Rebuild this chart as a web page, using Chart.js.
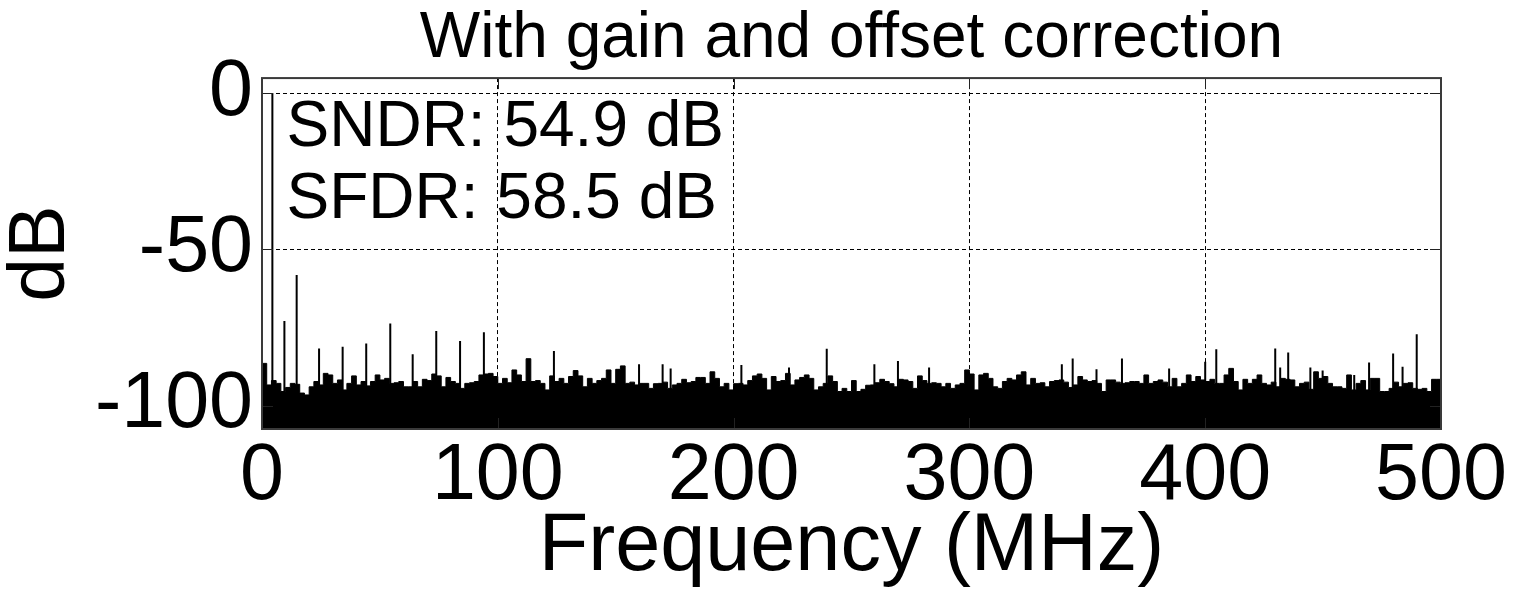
<!DOCTYPE html>
<html>
<head>
<meta charset="utf-8">
<script src="https://cdn.jsdelivr.net/npm/chart.js@4/dist/chart.umd.min.js"></script>
<style>
  html, body { margin: 0; padding: 0; background: #fff; }
  #wrap { width: 1514px; height: 591px; }
</style>
</head>
<body>
<div id="wrap"><canvas id="c" width="1514" height="591"></canvas></div>
<script>
// ---- Data ----
const titleText = 'With gain and offset correction';
const xAxisLabel = 'Frequency (MHz)';
const yAxisLabel = 'dB';
const xTickValues = [0, 100, 200, 300, 400, 500];
const yTickValues = [-100, -50, 0];
const xRange = [0, 500];
const yRange = [-107.5, 4.8];

// noise floor envelope, one value per 2 MHz bin starting at 0 MHz (dB)
const noiseBinStartMHz = 0;
const noiseBinWidthMHz = 2;
const noiseLevels = [
  -87.5, -86.5, -93.4, -92.0, -92.9, -95.5, -94.2, -92.9, -93.2, -96.0,
  -96.6, -94.0, -92.3, -93.4, -89.7, -90.2, -92.9, -91.8, -95.0, -92.9,
  -90.5, -93.4, -92.3, -93.7, -92.3, -90.2, -91.8, -91.3, -92.9, -92.7,
  -92.3, -94.0, -94.0, -92.3, -94.0, -91.6, -92.0, -89.9, -90.5, -94.0,
  -91.0, -92.3, -92.9, -94.5, -92.9, -92.7, -92.3, -90.2, -89.9, -89.7,
  -90.7, -92.9, -91.3, -92.7, -88.6, -90.2, -92.3, -85.0, -92.3, -92.0,
  -92.9, -95.0, -90.5, -92.3, -91.3, -92.9, -90.7, -88.8, -90.5, -94.0,
  -91.3, -92.9, -92.0, -91.3, -88.6, -92.9, -88.4, -87.3, -92.9, -92.5,
  -93.4, -92.9, -92.9, -94.5, -93.0, -92.9, -92.5, -94.5, -93.4, -92.9,
  -91.6, -92.7, -92.3, -91.0, -91.0, -92.9, -89.2, -91.3, -94.0, -92.9,
  -95.0, -93.0, -92.9, -93.4, -92.0, -90.5, -89.9, -91.3, -95.0, -90.7,
  -92.3, -92.0, -89.7, -93.4, -91.8, -91.0, -90.2, -91.3, -95.0, -94.0,
  -92.9, -90.5, -92.3, -95.5, -94.5, -95.5, -92.0, -95.5, -94.8, -93.5,
  -93.4, -92.7, -91.6, -92.3, -93.0, -94.0, -91.6, -91.8, -92.3, -94.5,
  -90.5, -92.0, -92.9, -92.7, -92.9, -94.0, -92.9, -94.5, -93.4, -92.9,
  -88.6, -89.9, -95.0, -90.2, -89.7, -91.3, -94.0, -94.5, -92.3, -91.3,
  -91.8, -90.2, -89.2, -93.4, -91.3, -92.9, -92.7, -94.0, -92.3, -92.0,
  -91.8, -92.5, -94.2, -93.4, -90.7, -91.8, -92.3, -92.0, -92.9, -95.5,
  -91.8, -91.8, -92.5, -92.9, -92.7, -92.3, -92.3, -92.9, -90.2, -92.9,
  -92.3, -91.8, -92.5, -94.0, -91.3, -94.0, -92.9, -90.2, -92.3, -90.7,
  -91.8, -92.3, -91.6, -92.9, -92.9, -90.2, -88.1, -92.3, -95.0, -91.6,
  -92.9, -91.6, -90.2, -92.9, -93.4, -92.5, -94.0, -91.3, -91.6, -91.8,
  -94.0, -92.9, -92.5, -94.8, -89.2, -91.3, -90.7, -92.9, -94.0, -94.0,
  -94.5, -90.2, -95.0, -92.9, -92.0, -95.0, -91.3, -91.3, -95.5, -95.5,
  -94.5, -92.5, -94.0, -92.9, -92.7, -94.5, -94.8, -94.5, -95.5, -91.6
];

// tones and spurs (MHz, dB)
const spurFreqs = [
  4.4, 9.5, 14.7, 24.2, 34.2, 44.2, 54.4, 63.9, 73.9, 84.0,
  94.1, 123.8, 159.9, 169.9, 173.3, 203.3, 223.5, 239.5, 259.7, 269.7,
  282.9, 339.2, 343.8, 353.9, 364.7, 384.7, 400.0, 404.7, 429.7, 431.8,
  435.2, 444.6, 449.8, 463.2, 469.5, 479.7, 483.7, 489.7
];
const spurLevels = [
  0.0, -72.9, -58.2, -81.7, -81.2, -80.1, -73.7, -83.6, -76.1, -79.3,
  -76.5, -82.5, -86.8, -86.8, -88.1, -87.0, -87.8, -81.8, -86.8, -85.7,
  -87.8, -86.8, -84.9, -88.4, -84.9, -88.1, -86.0, -82.0, -81.7, -87.8,
  -83.0, -87.8, -88.8, -90.2, -86.2, -83.3, -87.6, -77.2
];

const annotationLines = ['SNDR: 54.9 dB', 'SFDR: 58.5 dB'];

// ---- Build datasets ----
const noisePoints = noiseLevels.map((v, i) => ({ x: noiseBinStartMHz + i * noiseBinWidthMHz, y: v }));
noisePoints.push({ x: noiseBinStartMHz + noiseLevels.length * noiseBinWidthMHz, y: noiseLevels[noiseLevels.length - 1] });

const spurPoints = [];
spurFreqs.forEach((f, i) => {
  spurPoints.push({ x: f, y: yRange[0] });
  spurPoints.push({ x: f, y: spurLevels[i] });
  spurPoints.push({ x: f, y: null });
});

const FONT = '"Liberation Sans", Arial, Helvetica, sans-serif';

const frameAndTicks = {
  id: 'frameAndTicks',
  afterDatasetsDraw(chart) {
    const { ctx, chartArea: a, scales } = chart;
    ctx.save();
    ctx.strokeStyle = '#222';
    ctx.lineWidth = 1;
    const L = 11;
    ctx.beginPath();
    xTickValues.forEach(v => {
      const px = Math.round(scales.x.getPixelForValue(v)) + 0.5;
      ctx.moveTo(px, a.bottom); ctx.lineTo(px, a.bottom - L);
      ctx.moveTo(px, a.top); ctx.lineTo(px, a.top + L);
    });
    yTickValues.forEach(v => {
      const py = Math.round(scales.y.getPixelForValue(v)) + 0.5;
      ctx.moveTo(a.left, py); ctx.lineTo(a.left + L, py);
      ctx.moveTo(a.right, py); ctx.lineTo(a.right - L, py);
    });
    ctx.stroke();
    ctx.strokeStyle = '#3a3a3a';
    ctx.lineWidth = 2;
    ctx.strokeRect(a.left, a.top, a.right - a.left, a.bottom - a.top);
    // annotation text
    ctx.fillStyle = '#000';
    ctx.font = '64px ' + FONT;
    ctx.textAlign = 'left';
    ctx.textBaseline = 'alphabetic';
    const tx = scales.x.getPixelForValue(10.4);
    const ty = [scales.y.getPixelForValue(-16.8), scales.y.getPixelForValue(-40.1)];
    annotationLines.forEach((t, i) => ctx.fillText(t, tx, ty[i]));
    ctx.restore();
  }
};

new Chart(document.getElementById('c'), {
  type: 'line',
  data: {
    datasets: [
      {
        data: noisePoints,
        stepped: 'after',
        borderColor: '#000',
        backgroundColor: '#000',
        borderWidth: 1,
        pointRadius: 0,
        fill: 'start'
      },
      {
        data: spurPoints,
        borderColor: '#000',
        borderWidth: 2,
        pointRadius: 0,
        spanGaps: false,
        fill: false
      }
    ]
  },
  options: {
    responsive: false,
    animation: false,
    devicePixelRatio: 1,
    layout: { padding: { left: 0, right: 73, top: 0, bottom: 0 } },
    plugins: {
      legend: { display: false },
      tooltip: { enabled: false },
      title: {
        display: true,
        fullSize: false,
        text: titleText,
        color: '#000',
        font: { family: FONT, size: 64, weight: 'normal', lineHeight: 1.22 },
        padding: { top: 0, bottom: 0 }
      }
    },
    scales: {
      x: {
        type: 'linear',
        min: xRange[0],
        max: xRange[1],
        afterBuildTicks: s => { s.ticks = xTickValues.map(v => ({ value: v })); },
        afterFit: s => { s.height = 162; },
        ticks: {
          color: '#000',
          padding: 1,
          maxRotation: 0,
          autoSkip: false,
          font: { family: FONT, size: 79, lineHeight: 1.2 },
          callback: v => String(v)
        },
        grid: { color: '#000', lineWidth: 1, drawTicks: false },
        border: { display: false, dash: [4, 3] },
        title: {
          display: true,
          text: xAxisLabel,
          color: '#000',
          padding: 0,
          font: { family: FONT, size: 81, lineHeight: 1.08 }
        }
      },
      y: {
        type: 'linear',
        min: yRange[0],
        max: yRange[1],
        afterBuildTicks: s => { s.ticks = yTickValues.map(v => ({ value: v })); },
        afterFit: s => { s.width = 262; },
        ticks: {
          color: '#000',
          padding: 9,
          font: { family: FONT, size: 79, lineHeight: 1.2 },
          callback: v => String(v)
        },
        grid: { color: '#000', lineWidth: 1, drawTicks: false },
        border: { display: false, dash: [4, 3] },
        title: {
          display: true,
          text: yAxisLabel,
          color: '#000',
          padding: 0,
          font: { family: FONT, size: 79, lineHeight: 1.08 }
        }
      }
    }
  },
  plugins: [frameAndTicks]
});
</script>
</body>
</html>
